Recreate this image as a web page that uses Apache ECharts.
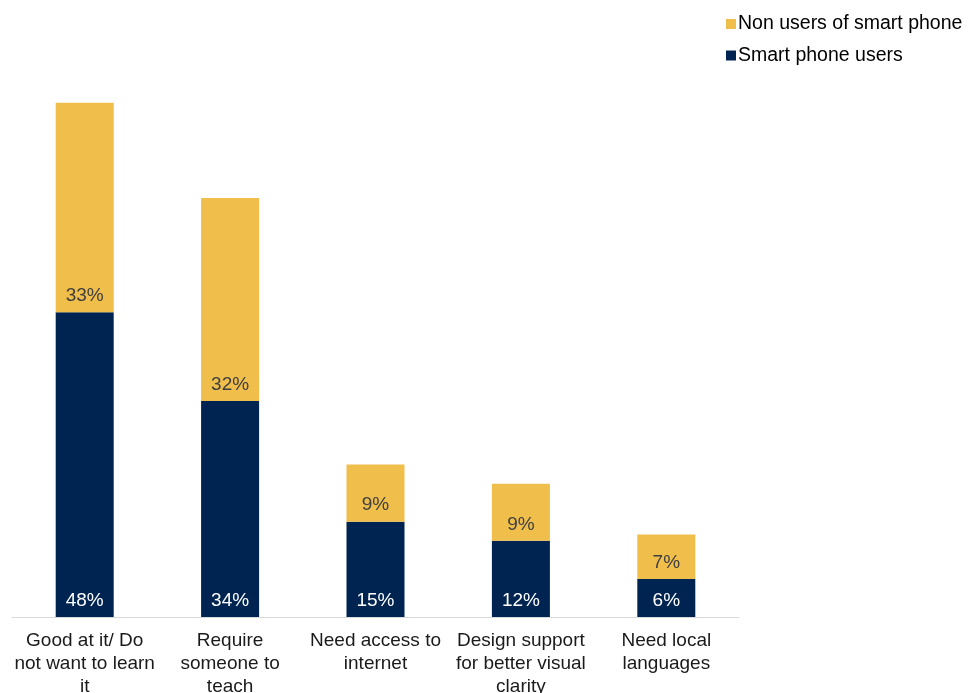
<!DOCTYPE html>
<html>
<head>
<meta charset="utf-8">
<script src="https://cdn.jsdelivr.net/npm/echarts@6/dist/echarts.min.js"></script>
<style>
html,body{margin:0;padding:0;background:#fff;}
#c{width:972px;height:693px;}
</style>
</head>
<body>
<div id="c"></div>
<script>
var categories = [
  "Good at it/ Do\nnot want to learn\nit",
  "Require\nsomeone to\nteach",
  "Need access to\ninternet",
  "Design support\nfor better visual\nclarity",
  "Need local\nlanguages"
];
var smartPhoneUsers = [48, 34, 15, 12, 6];
var nonUsers = [33, 32, 9, 9, 7];
var seriesNames = ["Smart phone users", "Non users of smart phone"];

var chart = echarts.init(document.getElementById('c'));
var font = "'Liberation Sans', Arial, sans-serif";
chart.setOption({
  animation: false,
  textStyle: { fontFamily: font },
  legend: {
    data: [seriesNames[1], seriesNames[0]],
    orient: 'vertical',
    left: 721,
    top: 9,
    itemWidth: 10,
    itemHeight: 10,
    itemGap: 11.5,
    icon: 'rect',
    textStyle: { fontSize: 19.5, color: '#000', fontFamily: font, padding: [0, 0, 0, -3] }
  },
  grid: { left: 12, right: 233, top: 45.5, bottom: 76, containLabel: false, outerBoundsMode: 'none' },
  xAxis: {
    type: 'category',
    data: categories,
    axisLine: { lineStyle: { color: '#d9d9d9', width: 1 } },
    axisTick: { show: false },
    axisLabel: { fontSize: 19, color: '#1a1a1a', lineHeight: 23, margin: 12, interval: 0, fontFamily: font }
  },
  yAxis: {
    type: 'value', min: 0, max: 90,
    show: false,
    splitLine: { show: false }
  },
  series: [
    {
      name: seriesNames[0], type: 'bar', stack: 's', data: smartPhoneUsers,
      barWidth: 58,
      itemStyle: { color: '#002452' },
      label: { show: true, position: 'insideBottom', distance: 7, formatter: '{c}%', color: '#fff', fontSize: 19, fontFamily: font }
    },
    {
      name: seriesNames[1], type: 'bar', stack: 's', data: nonUsers,
      barWidth: 58,
      itemStyle: { color: '#F0BE4A' },
      label: { show: true, position: 'insideBottom', distance: 7, formatter: '{c}%', color: '#404040', fontSize: 19, fontFamily: font }
    }
  ]
});
</script>
</body>
</html>
